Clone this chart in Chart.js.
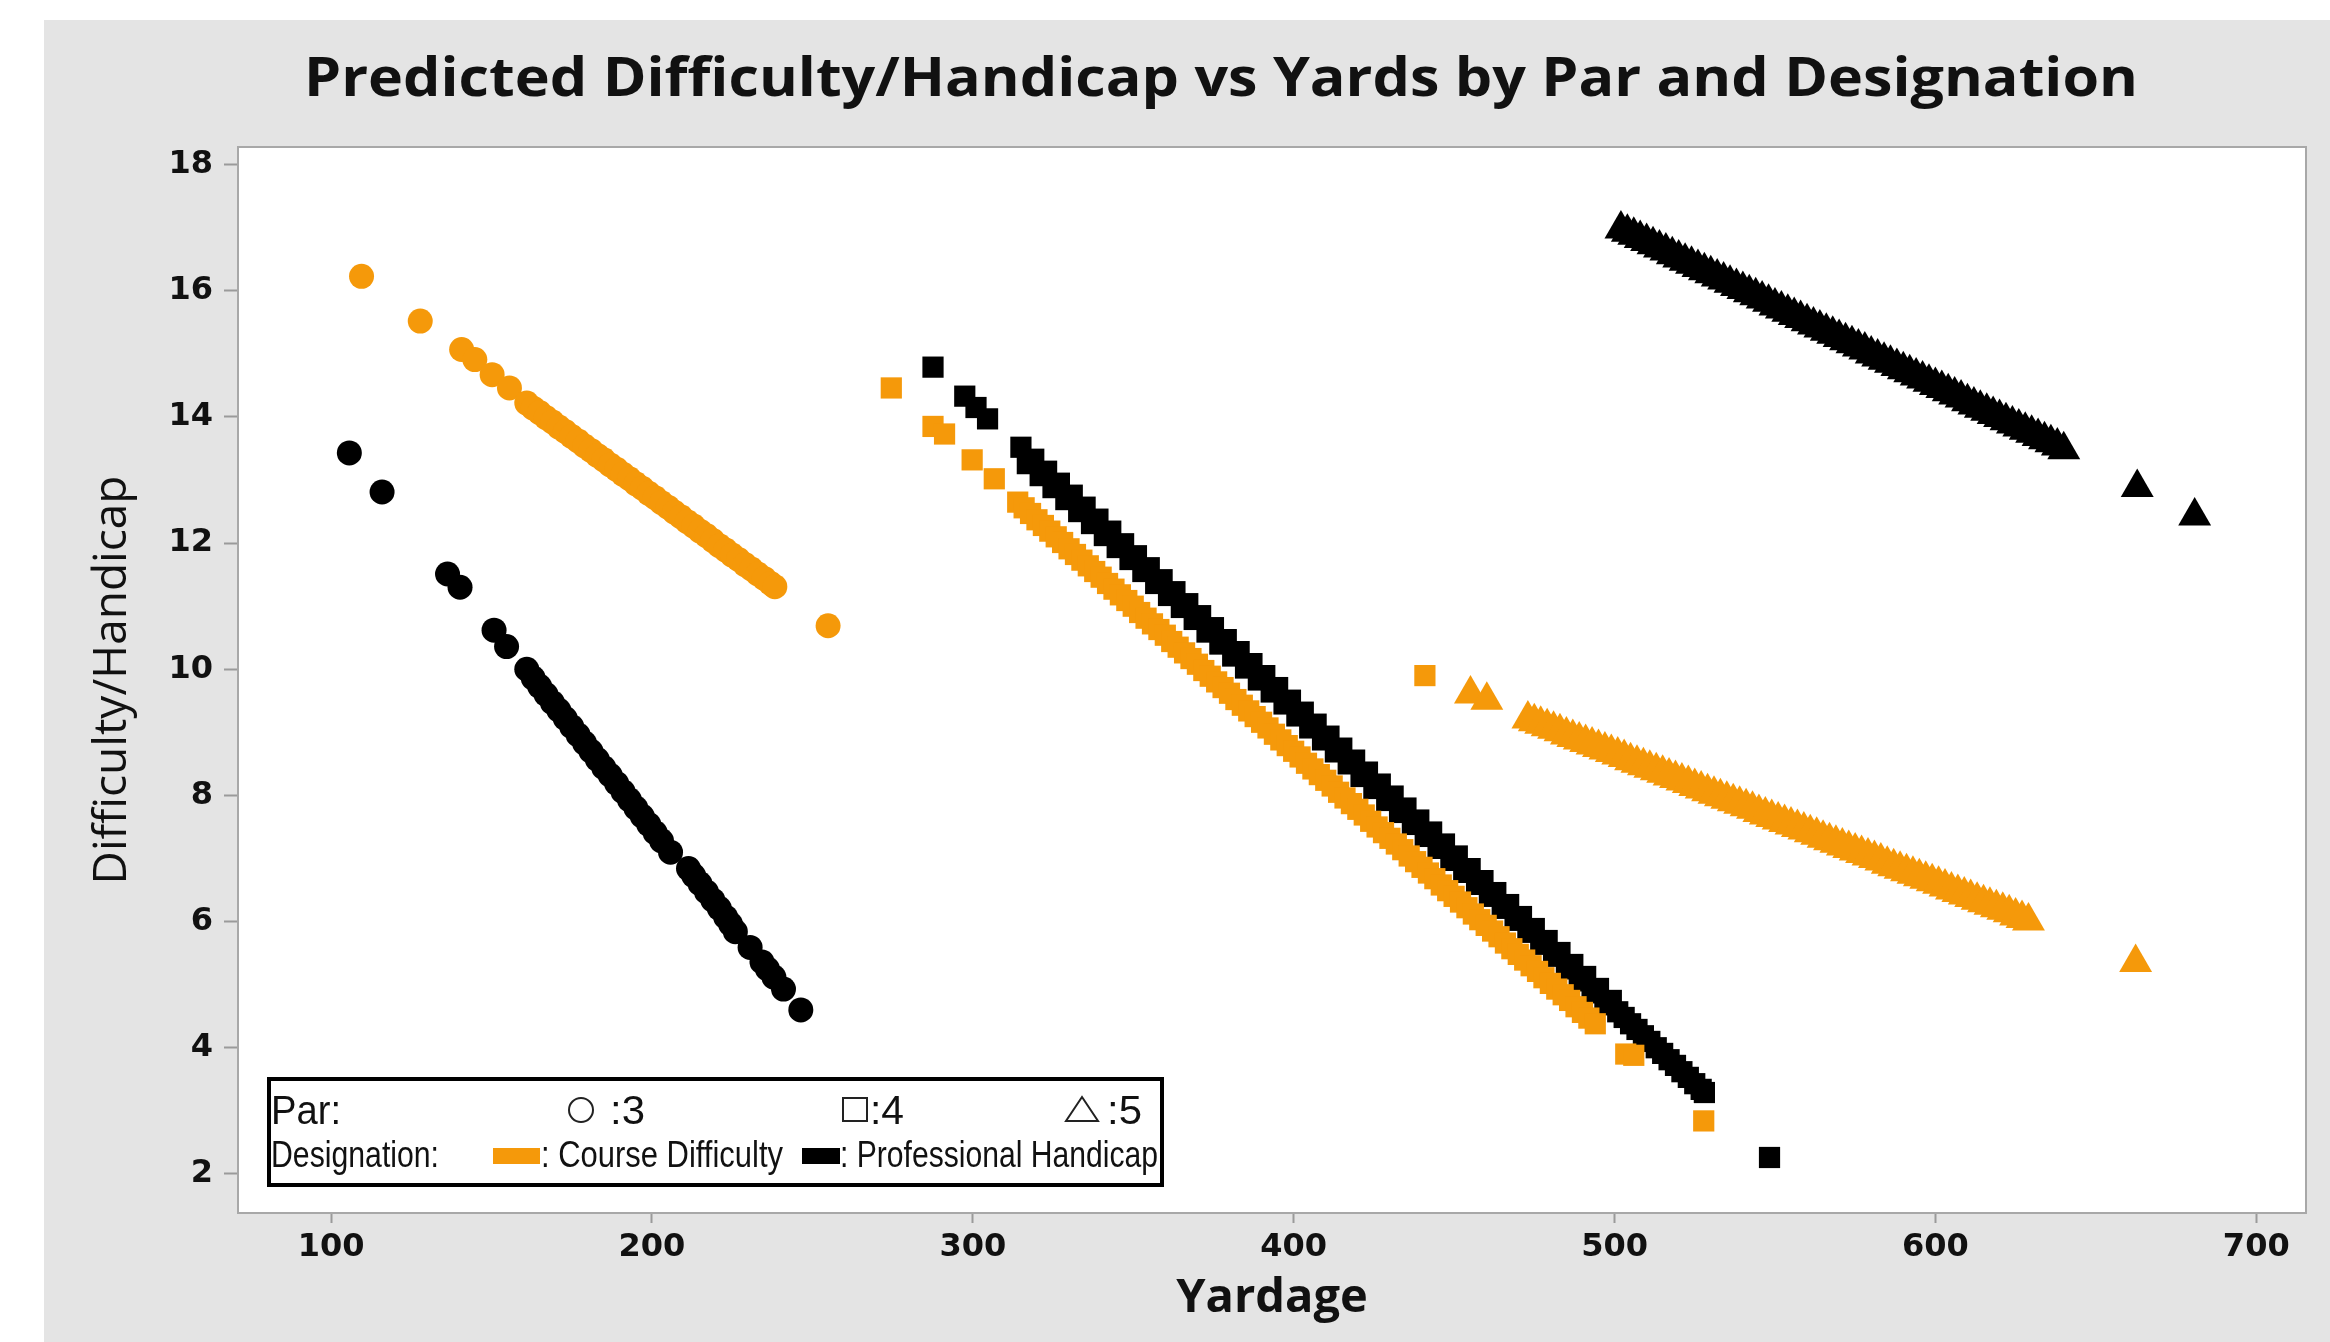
<!DOCTYPE html>
<html>
<head>
<meta charset="utf-8">
<script src="https://cdn.jsdelivr.net/npm/chart.js@4.4.1/dist/chart.umd.min.js"></script>
<style>
  html, body { margin: 0; padding: 0; background: #fff; }
</style>
</head>
<body>
<canvas id="chart" width="2330" height="1342"></canvas>
<script>
const chartTitle = 'Predicted Difficulty/Handicap vs Yards by Par and Designation';
const xTitle = 'Yardage';
const yTitle = 'Difficulty/Handicap';
const xTicks = [100, 200, 300, 400, 500, 600, 700];
const yTicks = [2, 4, 6, 8, 10, 12, 14, 16, 18];

// [yards, value]
const par3Course = [
  [109.5, 16.23], [127.8, 15.52], [140.7, 15.07], [144.8, 14.91], [150.2, 14.67], [155.6, 14.46],
  [161, 14.22], [163, 14.14], [165, 14.07], [167, 13.99], [169, 13.92], [171, 13.84], [173, 13.77],
  [175, 13.69], [177, 13.62], [179, 13.54], [181, 13.47], [183, 13.39], [185, 13.32], [187, 13.24],
  [189, 13.17], [191, 13.09], [193, 13.02], [195, 12.94], [197, 12.87], [199, 12.79], [201, 12.72],
  [203, 12.64], [205, 12.57], [207, 12.49], [209, 12.42], [211, 12.34], [213, 12.27], [215, 12.19],
  [217, 12.12], [219, 12.04], [221, 11.96], [223, 11.89], [225, 11.81], [227, 11.74], [229, 11.66],
  [231, 11.59], [233, 11.51], [235, 11.44], [237, 11.36], [238.3, 11.31], [254.9, 10.69]
];
const par3Pro = [
  [105.7, 13.43], [115.9, 12.81], [136.3, 11.51], [140.2, 11.30], [150.8, 10.62], [154.7, 10.36],
  [161, 10.00], [163, 9.86], [165, 9.73], [167, 9.60], [169, 9.47], [171, 9.35], [173, 9.22],
  [175, 9.09], [177, 8.96], [179, 8.83], [181, 8.70], [183, 8.57], [185, 8.44], [187, 8.32],
  [189, 8.19], [191, 8.06], [193, 7.93], [195, 7.80], [197, 7.67], [199, 7.54], [201, 7.41],
  [203, 7.28], [205.8, 7.10], [211.4, 6.84], [213, 6.73], [215, 6.60], [217, 6.47], [219, 6.34],
  [221, 6.21], [223, 6.07], [224.5, 5.96], [226, 5.84], [230.6, 5.59], [234.3, 5.36], [236, 5.25],
  [238, 5.12], [241, 4.93], [246.4, 4.60]
];
const par4Course = [
  [274.6, 14.46], [287.6, 13.85], [291.2, 13.73], [299.8, 13.32], [306.7, 13.02],
  [314, 12.65], [316, 12.56], [318, 12.47], [320, 12.37], [322, 12.28], [324, 12.19], [326, 12.10],
  [328, 12.01], [330, 11.91], [332, 11.82], [334, 11.73], [336, 11.64], [338, 11.55], [340, 11.46],
  [342, 11.36], [344, 11.27], [346, 11.18], [348, 11.09], [350, 11.00], [352, 10.90], [354, 10.81],
  [356, 10.72], [358, 10.63], [360, 10.54], [362, 10.44], [364, 10.35], [366, 10.26], [368, 10.17],
  [370, 10.08], [372, 9.98], [374, 9.89], [376, 9.80], [378, 9.71], [380, 9.62], [382, 9.52],
  [384, 9.43], [386, 9.34], [388, 9.25], [390, 9.16], [392, 9.07], [394, 8.97], [396, 8.88],
  [398, 8.79], [400, 8.70], [402, 8.61], [404, 8.51], [406, 8.42], [408, 8.33], [410, 8.24],
  [412, 8.15], [414, 8.05], [416, 7.96], [418, 7.87], [420, 7.78], [422, 7.69], [424, 7.59],
  [426, 7.50], [428, 7.41], [430, 7.32], [432, 7.23], [434, 7.14], [436, 7.04], [438, 6.95],
  [440, 6.86], [442, 6.77], [444, 6.68], [446, 6.58], [448, 6.49], [450, 6.40], [452, 6.31],
  [454, 6.22], [456, 6.12], [458, 6.03], [460, 5.94], [462, 5.85], [464, 5.76], [466, 5.66],
  [468, 5.57], [470, 5.48], [472, 5.39], [474, 5.30], [476, 5.21], [478, 5.11], [480, 5.02],
  [482, 4.93], [484, 4.84], [486, 4.75], [488, 4.65], [490, 4.56], [492, 4.47], [494, 4.38],
  [440.9, 9.90], [503.5, 3.90], [506, 3.88], [527.8, 2.84]
];
const par4Pro = [
  [287.6, 14.79], [297.5, 14.33], [301, 14.15], [304.6, 13.97],
  [315, 13.52], [317, 13.26], [319, 13.33], [321, 13.07], [323, 13.14], [325, 12.88], [327, 12.95],
  [329, 12.69], [331, 12.76], [333, 12.50], [335, 12.57], [337, 12.31], [339, 12.38], [341, 12.12],
  [343, 12.19], [345, 11.93], [347, 11.99], [349, 11.74], [351, 11.80], [353, 11.55], [355, 11.61],
  [357, 11.36], [359, 11.42], [361, 11.17], [363, 11.23], [365, 10.98], [367, 11.04], [369, 10.79],
  [371, 10.85], [373, 10.59], [375, 10.66], [377, 10.40], [379, 10.47], [381, 10.21], [383, 10.28],
  [385, 10.02], [387, 10.09], [389, 9.83], [391, 9.90], [393, 9.64], [395, 9.71], [397, 9.45],
  [399, 9.51], [401, 9.26], [403, 9.32], [405, 9.07], [407, 9.13], [409, 8.88], [411, 8.94],
  [413, 8.69], [415, 8.75], [417, 8.50], [419, 8.56], [421, 8.30], [423, 8.37], [425, 8.11],
  [427, 8.18], [429, 7.92], [431, 7.99], [433, 7.73], [435, 7.80], [437, 7.54], [439, 7.61],
  [441, 7.35], [443, 7.42], [445, 7.16], [447, 7.23], [449, 6.97], [451, 7.04], [453, 6.78],
  [455, 6.84], [457, 6.59], [459, 6.65], [461, 6.40], [463, 6.46], [465, 6.21], [467, 6.27],
  [469, 6.02], [471, 6.08], [473, 5.83], [475, 5.89], [477, 5.64], [479, 5.70], [481, 5.45],
  [483, 5.51], [485, 5.25], [487, 5.32], [489, 5.06], [491, 5.13], [493, 4.87], [495, 4.94],
  [497, 4.68], [499, 4.75], [501, 4.57], [503, 4.48], [505, 4.38], [507, 4.29], [509, 4.19],
  [511, 4.10], [513, 4.00], [515, 3.91], [517, 3.81], [519, 3.72], [521, 3.62], [523, 3.53],
  [525, 3.43], [527, 3.34], [528, 3.29], [548.3, 2.26]
];
const par5Course = [
  [455.1, 9.61], [460.2, 9.51],
  [473, 9.21], [475, 9.17], [477, 9.13], [479, 9.09], [481, 9.05], [483, 9.01], [485, 8.96],
  [487, 8.92], [489, 8.88], [491, 8.84], [493, 8.80], [495, 8.76], [497, 8.72], [499, 8.68],
  [501, 8.64], [503, 8.60], [505, 8.55], [507, 8.51], [509, 8.47], [511, 8.43], [513, 8.39],
  [515, 8.35], [517, 8.31], [519, 8.27], [521, 8.23], [523, 8.19], [525, 8.14], [527, 8.10],
  [529, 8.06], [531, 8.02], [533, 7.98], [535, 7.94], [537, 7.90], [539, 7.86], [541, 7.82],
  [543, 7.78], [545, 7.73], [547, 7.69], [549, 7.65], [551, 7.61], [553, 7.57], [555, 7.53],
  [557, 7.49], [559, 7.45], [561, 7.41], [563, 7.37], [565, 7.32], [567, 7.28], [569, 7.24],
  [571, 7.20], [573, 7.16], [575, 7.12], [577, 7.08], [579, 7.04], [581, 7.00], [583, 6.96],
  [585, 6.91], [587, 6.87], [589, 6.83], [591, 6.79], [593, 6.75], [595, 6.71], [597, 6.67],
  [599, 6.63], [601, 6.59], [603, 6.55], [605, 6.50], [607, 6.46], [609, 6.42], [611, 6.38],
  [613, 6.34], [615, 6.30], [617, 6.26], [619, 6.22], [621, 6.18], [623, 6.14], [625, 6.09],
  [627, 6.05], [629, 6.01], [662.4, 5.35]
];
const par5Pro = [
  [502, 16.98], [504, 16.93], [506, 16.88], [508, 16.83], [510, 16.78], [512, 16.73], [514, 16.68],
  [516, 16.63], [518, 16.57], [520, 16.52], [522, 16.47], [524, 16.42], [526, 16.37], [528, 16.32],
  [530, 16.27], [532, 16.22], [534, 16.17], [536, 16.12], [538, 16.07], [540, 16.02], [542, 15.97],
  [544, 15.92], [546, 15.87], [548, 15.82], [550, 15.76], [552, 15.71], [554, 15.66], [556, 15.61],
  [558, 15.56], [560, 15.51], [562, 15.46], [564, 15.41], [566, 15.36], [568, 15.31], [570, 15.26],
  [572, 15.21], [574, 15.16], [576, 15.11], [578, 15.06], [580, 15.00], [582, 14.95], [584, 14.90],
  [586, 14.85], [588, 14.80], [590, 14.75], [592, 14.70], [594, 14.65], [596, 14.60], [598, 14.55],
  [600, 14.50], [602, 14.45], [604, 14.40], [606, 14.35], [608, 14.30], [610, 14.24], [612, 14.19],
  [614, 14.14], [616, 14.09], [618, 14.04], [620, 13.99], [622, 13.94], [624, 13.89], [626, 13.84],
  [628, 13.79], [630, 13.74], [632, 13.69], [634, 13.64], [636, 13.59], [638, 13.54], [640, 13.48],
  [662.9, 12.88], [680.8, 12.43]
];

const ORANGE = 'rgb(245,153,10)';
const BLACK = '#000000';
const PANEL = '#e4e4e4';

function toPoints(pairs) {
  return pairs.map(([x, y]) => ({ x: x, y: y }));
}

function makeSet(label, pairs, color, style, radius) {
  return {
    label: label,
    data: toPoints(pairs),
    pointStyle: style,
    pointRadius: radius,
    pointHoverRadius: radius,
    backgroundColor: color,
    borderColor: color,
    borderWidth: 0,
    showLine: false,
  };
}

// gray panel + white plot area + frame
const backdrop = {
  id: 'backdrop',
  beforeDraw(chart) {
    const { ctx, chartArea: a } = chart;
    ctx.save();
    ctx.fillStyle = '#fff';
    ctx.fillRect(0, 0, chart.width, chart.height);
    ctx.fillStyle = PANEL;
    ctx.fillRect(44, 20, chart.width - 44, chart.height - 20);
    ctx.fillStyle = '#fff';
    ctx.fillRect(a.left, a.top, a.right - a.left, a.bottom - a.top);
    ctx.restore();
  },
  afterDraw(chart) {
    const { ctx, chartArea: a } = chart;
    ctx.save();
    ctx.strokeStyle = '#a8a8a8';
    ctx.lineWidth = 2;
    ctx.strokeRect(a.left, a.top, a.right - a.left, a.bottom - a.top);
    ctx.restore();
  }
};

// draw text squeezed/stretched to a given width
function fitText(ctx, txt, x, y, width) {
  const w = ctx.measureText(txt).width;
  ctx.save();
  ctx.translate(x, y);
  ctx.scale(width / w, 1);
  ctx.fillText(txt, 0, 0);
  ctx.restore();
}

const titleDraw = {
  id: 'titleDraw',
  afterDraw(chart) {
    const ctx = chart.ctx;
    ctx.save();
    ctx.fillStyle = '#111';
    ctx.textAlign = 'left';
    ctx.textBaseline = 'alphabetic';
    ctx.font = 'bold 54px "Open Sans"';
    fitText(ctx, chartTitle, 304, 96, 1834);
    ctx.restore();
  }
};

const parLegend = {
  id: 'parLegend',
  afterDatasetsDraw(chart) {
    const ctx = chart.ctx;
    const left = 269, top = 1079, w = 893, h = 106;
    ctx.save();
    ctx.fillStyle = '#fff';
    ctx.fillRect(left, top, w, h);
    ctx.lineWidth = 4;
    ctx.strokeStyle = '#000';
    ctx.strokeRect(left, top, w, h);

    ctx.fillStyle = '#111';
    ctx.textBaseline = 'alphabetic';
    const row1 = 1124, row2 = 1167;

    ctx.font = '40px "Liberation Sans"';
    fitText(ctx, 'Par:', 271, row1, 70);

    ctx.strokeStyle = '#222';
    ctx.lineWidth = 2;
    ctx.beginPath();
    ctx.arc(581, 1110, 12, 0, Math.PI * 2);
    ctx.stroke();
    fitText(ctx, ':3', 610, row1, 35);

    ctx.strokeRect(843, 1098, 24, 23);
    fitText(ctx, ':4', 870, row1, 34);

    ctx.beginPath();
    ctx.moveTo(1082, 1097);
    ctx.lineTo(1098, 1121);
    ctx.lineTo(1066, 1121);
    ctx.closePath();
    ctx.stroke();
    fitText(ctx, ':5', 1107, row1, 35);

    ctx.font = '37px "Liberation Sans"';
    fitText(ctx, 'Designation:', 271, row2, 168);
    ctx.fillStyle = ORANGE;
    ctx.fillRect(493, 1148, 47, 16);
    ctx.fillStyle = '#111';
    fitText(ctx, ': Course Difficulty', 541, row2, 242);
    ctx.fillStyle = BLACK;
    ctx.fillRect(802, 1148, 38, 16);
    ctx.fillStyle = '#111';
    fitText(ctx, ': Professional Handicap', 840, row2, 318);
    ctx.restore();
  }
};

const tickFont = { family: '"DejaVu Sans"', weight: 'bold', size: 32 };

new Chart(document.getElementById('chart'), {
  type: 'scatter',
  data: {
    datasets: [
      makeSet('Par 3 Course Difficulty', par3Course, ORANGE, 'circle', 12.5),
      makeSet('Par 4 Course Difficulty', par4Course, ORANGE, 'rect', 15),
      makeSet('Par 5 Course Difficulty', par5Course, ORANGE, 'triangle', 19),
      makeSet('Par 3 Professional Handicap', par3Pro, BLACK, 'circle', 12.5),
      makeSet('Par 4 Professional Handicap', par4Pro, BLACK, 'rect', 15),
      makeSet('Par 5 Professional Handicap', par5Pro, BLACK, 'triangle', 19),
    ],
  },
  options: {
    responsive: false,
    animation: false,
    events: [],
    layout: { padding: { left: 44, top: 147, right: 24, bottom: 0 } },
    plugins: {
      legend: { display: false },
      title: { display: false },
      tooltip: { enabled: false },
    },
    scales: {
      x: {
        type: 'linear',
        min: 71,
        max: 715.5,
        afterBuildTicks: (s) => { s.ticks = xTicks.map((v) => ({ value: v })); },
        afterFit: (s) => { s.height = 129; },
        border: { display: false },
        grid: { drawOnChartArea: false, tickLength: 10, tickColor: '#9a9a9a', tickWidth: 2 },
        ticks: { font: tickFont, color: '#111', padding: 5, maxRotation: 0 },
        title: {
          display: true, text: xTitle, color: '#111',
          font: { family: '"Open Sans"', weight: 'bold', size: 47 },
          padding: { top: 0, bottom: 15 },
        },
      },
      y: {
        type: 'linear',
        min: 1.38,
        max: 18.28,
        afterBuildTicks: (s) => { s.ticks = yTicks.map((v) => ({ value: v })); },
        afterFit: (s) => { s.width = 194; },
        border: { display: false },
        grid: { drawOnChartArea: false, tickLength: 14, tickColor: '#9a9a9a', tickWidth: 2 },
        ticks: { font: tickFont, color: '#111', padding: 11 },
        title: {
          display: true, text: yTitle, color: '#111',
          font: { family: '"Open Sans"', weight: 'normal', size: 46 },
          padding: { top: 41, bottom: 0 },
        },
      },
    },
  },
  plugins: [backdrop, titleDraw, parLegend],
});
</script>
</body>
</html>
